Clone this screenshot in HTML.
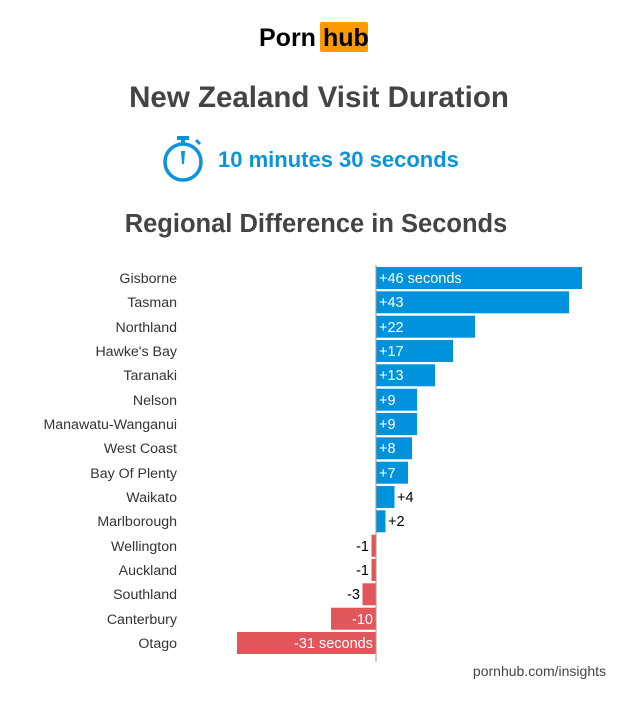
<!DOCTYPE html>
<html><head><meta charset="utf-8"><style>body{margin:0;background:#fff}svg{display:block}</style></head>
<body>
<svg width="620" height="701" viewBox="0 0 620 701" xmlns="http://www.w3.org/2000/svg" font-family="Liberation Sans, sans-serif">
<text x="259" y="46" font-size="25" font-weight="bold" fill="#000">Porn</text>
<rect x="320" y="22" width="48" height="30" rx="2" fill="#ff9900"/>
<text x="323" y="46" font-size="25" font-weight="bold" fill="#000">hub</text>
<text x="319" y="107" font-size="29.5" font-weight="bold" fill="#444" text-anchor="middle">New Zealand Visit Duration</text>
<g fill="none" stroke="#0b93dc" stroke-width="3.5">
<circle cx="183" cy="162" r="18"/>
</g>
<rect x="177" y="136" width="12" height="4" fill="#0b93dc"/>
<rect x="181" y="139" width="4" height="5" fill="#0b93dc"/>
<path d="M196 140 l4 4" stroke="#0b93dc" stroke-width="3"/>
<path d="M181 151 h4 l-1 13 h-2z" fill="#0b93dc"/>
<text x="218" y="167" font-size="22" font-weight="bold" fill="#0b93dc">10 minutes 30 seconds</text>
<text x="316" y="232" font-size="25.5" font-weight="bold" fill="#444" text-anchor="middle">Regional Difference in Seconds</text>
<g font-size="14.2" fill="#333" text-anchor="end">
<text x="177" y="283">Gisborne</text>
<text x="177" y="307">Tasman</text>
<text x="177" y="332">Northland</text>
<text x="177" y="356">Hawke's Bay</text>
<text x="177" y="380">Taranaki</text>
<text x="177" y="405">Nelson</text>
<text x="177" y="429">Manawatu-Wanganui</text>
<text x="177" y="453">West Coast</text>
<text x="177" y="478">Bay Of Plenty</text>
<text x="177" y="502">Waikato</text>
<text x="177" y="526">Marlborough</text>
<text x="177" y="551">Wellington</text>
<text x="177" y="575">Auckland</text>
<text x="177" y="599">Southland</text>
<text x="177" y="624">Canterbury</text>
<text x="177" y="648">Otago</text>
</g>
<g fill="#0092dd">
<rect x="376" y="267" width="206" height="22"/>
<rect x="376" y="291.3" width="193" height="22"/>
<rect x="376" y="315.7" width="99" height="22"/>
<rect x="376" y="340" width="77" height="22"/>
<rect x="376" y="364.3" width="59" height="22"/>
<rect x="376" y="388.7" width="41" height="22"/>
<rect x="376" y="413" width="41" height="22"/>
<rect x="376" y="437.3" width="36" height="22"/>
<rect x="376" y="461.7" width="32" height="22"/>
<rect x="376" y="486" width="18.5" height="22"/>
<rect x="376" y="510.3" width="9.5" height="22"/>
</g>
<g fill="#e0565a">
<rect x="371.5" y="534.7" width="4.5" height="22"/>
<rect x="371.5" y="559" width="4.5" height="22"/>
<rect x="362.5" y="583.3" width="13.5" height="22"/>
<rect x="331" y="607.7" width="45" height="22"/>
<rect x="237" y="632" width="139" height="22"/>
</g>
<line x1="376" y1="265" x2="376" y2="662" stroke="#999" stroke-width="1"/>
<g font-size="14.5" fill="#fff">
<text x="379" y="283">+46 seconds</text>
<text x="379" y="307">+43</text>
<text x="379" y="332">+22</text>
<text x="379" y="356">+17</text>
<text x="379" y="380">+13</text>
<text x="379" y="405">+9</text>
<text x="379" y="429">+9</text>
<text x="379" y="453">+8</text>
<text x="379" y="478">+7</text>
</g>
<g font-size="14.5" fill="#000">
<text x="397" y="502">+4</text>
<text x="388" y="526">+2</text>
<text x="369" y="551" text-anchor="end">-1</text>
<text x="369" y="575" text-anchor="end">-1</text>
<text x="360" y="599" text-anchor="end">-3</text>
</g>
<g font-size="14.5" fill="#fff" text-anchor="end">
<text x="373" y="624">-10</text>
<text x="373" y="648">-31 seconds</text>
</g>
<text x="606" y="676" font-size="14" fill="#444" text-anchor="end">pornhub.com/insights</text>
</svg>
</body></html>
